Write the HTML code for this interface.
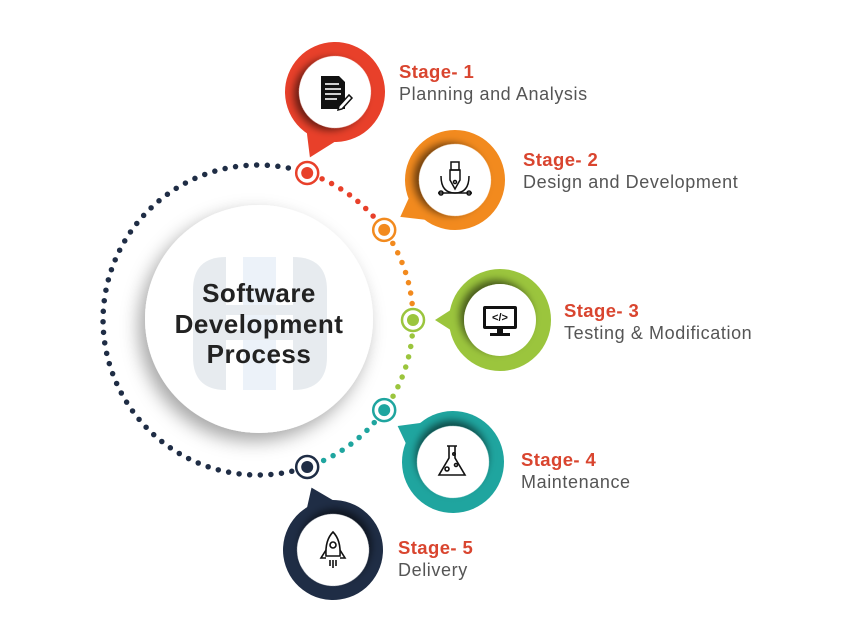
<!DOCTYPE html>
<html><head><meta charset="utf-8"><style>
body{margin:0;background:#fff;}
svg{display:block;font-family:"Liberation Sans",sans-serif;}
.st{font-weight:bold;fill:#d9452f;font-size:18.5px;letter-spacing:0.4px;}
.sub{fill:#555;font-size:18px;letter-spacing:0.6px;}
</style></head><body>
<svg width="860" height="642" viewBox="0 0 860 642">
<defs>
<filter id="sh" x="-50%" y="-50%" width="200%" height="200%"><feDropShadow dx="4" dy="4" stdDeviation="4" flood-color="#000" flood-opacity="0.55"/></filter>
<filter id="bs" x="-50%" y="-50%" width="200%" height="200%"><feDropShadow dx="-6" dy="8" stdDeviation="9" flood-color="#000" flood-opacity="0.35"/></filter>
</defs>
<g fill="none" stroke-width="5.5" stroke-linecap="round" stroke-dasharray="0 10.6">
<path d="M307.2 467 A155 155 0 1 1 307.2 173" stroke="#1f2d45" stroke-dashoffset="-16"/>
<path d="M307.2 173 A155 155 0 0 1 384.2 229.9" stroke="#e8402a" stroke-dashoffset="-16"/>
<path d="M384.2 229.9 A155 155 0 0 1 413 320" stroke="#f28a1e" stroke-dashoffset="-16"/>
<path d="M413 320 A155 155 0 0 1 384.2 410.1" stroke="#9bc53d" stroke-dashoffset="-16"/>
<path d="M384.2 410.1 A155 155 0 0 1 307.2 467" stroke="#1fa59f" stroke-dashoffset="-16"/>
</g>
<circle cx="259" cy="319" r="114" fill="#fff" filter="url(#bs)"/>
<g opacity="0.75">
<path d="M193 290 Q193 257 226 257 L226 390 Q193 390 193 357Z" fill="#dfe5ea"/>
<rect x="243" y="257" width="33" height="133" fill="#e6eef8"/>
<path d="M293 257 Q327 257 327 290 L327 357 Q327 390 293 390Z" fill="#dfe5ea"/>
<rect x="193" y="305" width="134" height="10" fill="#dfe5ea"/>
<rect x="193" y="330" width="134" height="10" fill="#dfe5ea"/>
</g>
<g font-weight="bold" font-size="26" fill="#222" text-anchor="middle" letter-spacing="0.5">
<text x="259" y="302">Software</text>
<text x="259" y="333">Development</text>
<text x="259" y="363">Process</text>
</g>
<g fill="#fff" stroke-width="2.5">
<circle cx="307.2" cy="173" r="11" stroke="#e8402a"/><circle cx="307.2" cy="173" r="6" fill="#e8402a" stroke="none"/>
<circle cx="384.2" cy="229.9" r="11" stroke="#f28a1e"/><circle cx="384.2" cy="229.9" r="6" fill="#f28a1e" stroke="none"/>
<circle cx="413" cy="320" r="11" stroke="#9bc53d"/><circle cx="413" cy="320" r="6" fill="#9bc53d" stroke="none"/>
<circle cx="384.2" cy="410.1" r="11" stroke="#1fa59f"/><circle cx="384.2" cy="410.1" r="6" fill="#1fa59f" stroke="none"/>
<circle cx="307.2" cy="467" r="11" stroke="#1f2d45"/><circle cx="307.2" cy="467" r="6" fill="#1f2d45" stroke="none"/>
</g>
<g transform="translate(335,92) rotate(111)"><circle r="50" fill="#e8402a"/><polygon points="38,-24 70,0 40,16" fill="#e8402a"/><circle r="36" fill="#fff" filter="url(#sh)"/></g>
<g transform="translate(455,180) rotate(146)"><circle r="50" fill="#f28a1e"/><polygon points="38,-24 66,0 40,16" fill="#f28a1e"/><circle r="36" fill="#fff" filter="url(#sh)"/></g>
<g transform="translate(500,320) rotate(180)"><circle r="51" fill="#9bc53d"/><polygon points="40,-16 65,0 40,16" fill="#9bc53d"/><circle r="36" fill="#fff" filter="url(#sh)"/></g>
<g transform="translate(453,462) rotate(213)"><circle r="51" fill="#1fa59f"/><polygon points="40,-16 66,0 38,24" fill="#1fa59f"/><circle r="36" fill="#fff" filter="url(#sh)"/></g>
<g transform="translate(333,550) rotate(251)"><circle r="50" fill="#1f2d45"/><polygon points="40,-16 66,0 38,24" fill="#1f2d45"/><circle r="36" fill="#fff" filter="url(#sh)"/></g>
<g transform="translate(335,92)">
<path d="M-14,-16 H4 L10,-10 V17 H-14Z" fill="#111"/>
<g stroke="#fff" stroke-width="1.6"><line x1="-10" y1="-8" x2="4" y2="-8"/><line x1="-10" y1="-3" x2="6" y2="-3"/><line x1="-10" y1="2" x2="6" y2="2"/><line x1="-10" y1="7" x2="2" y2="7"/></g>
<path d="M4,14 L14,3 L17,6 L7,17 L3,18Z" fill="#fff" stroke="#111" stroke-width="1.5"/>
</g>
<g transform="translate(455,180)" fill="none" stroke="#111" stroke-width="1.5">
<rect x="-4" y="-18" width="8" height="8"/><path d="M-5,-10 L5,-10 L5,0 L0,9 L-5,0Z"/><circle cx="0" cy="2" r="1.5"/>
<path d="M-14,-4 Q-14,13 0,13 Q14,13 14,-4"/><line x1="-17" y1="13" x2="17" y2="13"/><circle cx="-14" cy="13" r="2"/><circle cx="14" cy="13" r="2"/>
</g>
<g transform="translate(500,320)">
<rect x="-17" y="-14" width="34" height="23" rx="2" fill="#111"/><rect x="-14" y="-11" width="28" height="17" fill="#fff"/>
<text x="0" y="1" font-size="11" font-weight="bold" text-anchor="middle" fill="#111">&lt;/&gt;</text>
<rect x="-3" y="9" width="6" height="5" fill="#111"/><rect x="-10" y="13" width="20" height="3" fill="#111"/>
</g>
<g transform="translate(452,462)" fill="none" stroke="#111" stroke-width="1.6">
<path d="M-5,-16 H5 M-3,-16 V-4 L-13,13 H13 L3,-4 V-16"/><circle cx="-5" cy="7" r="2"/><circle cx="4" cy="3" r="1.5"/><circle cx="2" cy="-8" r="1.2"/>
</g>
<g transform="translate(333,550)" fill="none" stroke="#111" stroke-width="1.6">
<path d="M0,-18 Q8,-10 7,6 H-7 Q-8,-10 0,-18Z"/><circle cx="0" cy="-5" r="3"/><path d="M-7,0 L-12,8 L-7,8 M7,0 L12,8 L7,8"/><path d="M-3,10 V16 M0,10 V18 M3,10 V16"/>
</g>
<text class="st" x="399" y="78">Stage- 1</text><text class="sub" x="399" y="100">Planning and Analysis</text>
<text class="st" x="523" y="166">Stage- 2</text><text class="sub" x="523" y="188">Design and Development</text>
<text class="st" x="564" y="317">Stage- 3</text><text class="sub" x="564" y="339">Testing &amp; Modification</text>
<text class="st" x="521" y="466">Stage- 4</text><text class="sub" x="521" y="488">Maintenance</text>
<text class="st" x="398" y="554">Stage- 5</text><text class="sub" x="398" y="576">Delivery</text>
</svg>
</body></html>
